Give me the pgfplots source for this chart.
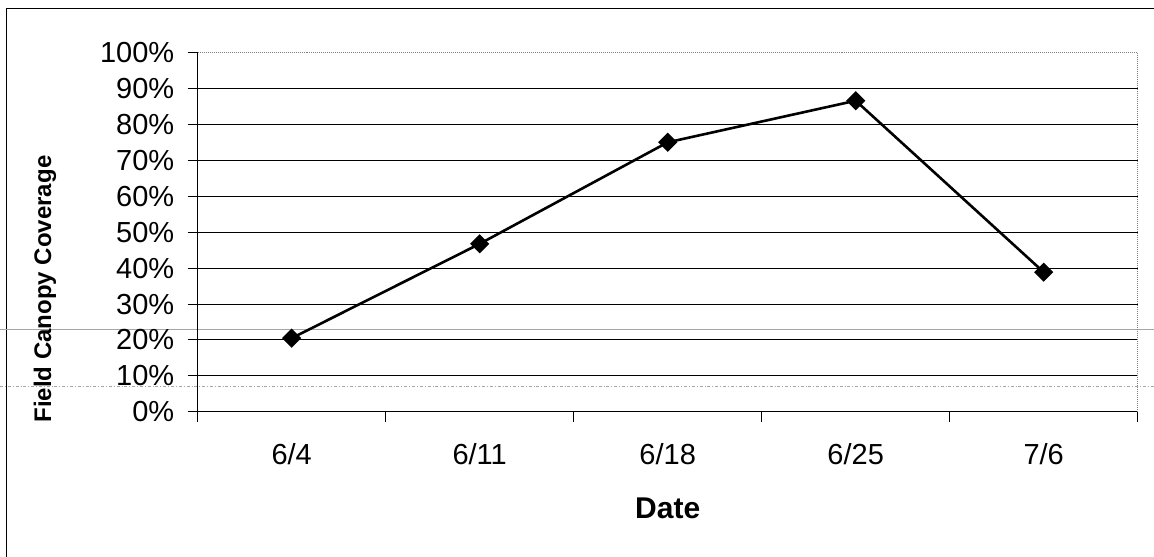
\documentclass[border=0pt]{standalone}
\usepackage{pgfplots}
\pgfplotsset{compat=1.18}
\usepackage{fontspec}
\setmainfont{Liberation Sans}
\begin{document}
\begin{tikzpicture}
\useasboundingbox (0bp,0bp) rectangle (1154bp,557bp);
\fill[white] (0bp,0bp) rectangle (1154bp,557bp);
% outer chart frame (top and left edges visible)
\draw[line width=1bp] (6bp,548bp) -- (1154bp,548bp);
\draw[line width=1bp] (6bp,548bp) -- (6bp,0bp);
% scan lines across the page
\draw[gray!70, line width=0.8bp] (0bp,228bp) -- (1154bp,228bp);
\draw[gray!70, line width=0.8bp, dash dot] (0bp,171bp) -- (1154bp,171bp);
\begin{axis}[
  at={(197.7bp,145.3bp)}, anchor=south west,
  scale only axis, width=940bp, height=358.7bp,
  xmin=-0.5, xmax=4.5, ymin=0, ymax=100,
  axis lines*=left,
  axis line style={-, black, line width=1.2bp},
  clip=false,
  /pgf/number format/assume math mode=true,
  tick align=outside,
  major tick length=10bp,
  tick style={black, line width=1bp},
  ytick={0,10,...,90},
  yticklabels={0\%,10\%,20\%,30\%,40\%,50\%,60\%,70\%,80\%,90\%},
  extra y ticks={100},
  extra y tick labels={100\%},
  extra y tick style={grid style={gray, densely dotted, line width=1bp}},
  ymajorgrids,
  grid style={black, line width=1bp},
  xtick={-0.5,0.5,1.5,2.5,3.5,4.5},
  xticklabels={},
  extra x ticks={0,1,2,3,4},
  extra x tick labels={6/4,6/11,6/18,6/25,7/6},
  extra x tick style={major tick length=0pt, xticklabel style={yshift=-28bp}},
  tick label style={font=\fontsize{29bp}{34bp}\selectfont, black},
  yticklabel style={anchor=east, xshift=-10bp},
]
\draw[gray, densely dotted, line width=1bp] (rel axis cs:1,0) -- (rel axis cs:1,1);
\addplot[black, line width=2.6bp, mark=square*, mark size=5.5bp,
  mark options={rotate=45, solid, fill=black}]
  coordinates {(0,20.5) (1,46.8) (2,75.1) (3,86.7) (4,38.9)};
\end{axis}
\node[rotate=90, font=\fontsize{24bp}{28bp}\selectfont\bfseries] at (45bp,268bp) {Field Canopy Coverage};
\node[font=\fontsize{30bp}{36bp}\selectfont\bfseries] at (667.7bp,48.2bp) {Date};
\end{tikzpicture}
\end{document}
